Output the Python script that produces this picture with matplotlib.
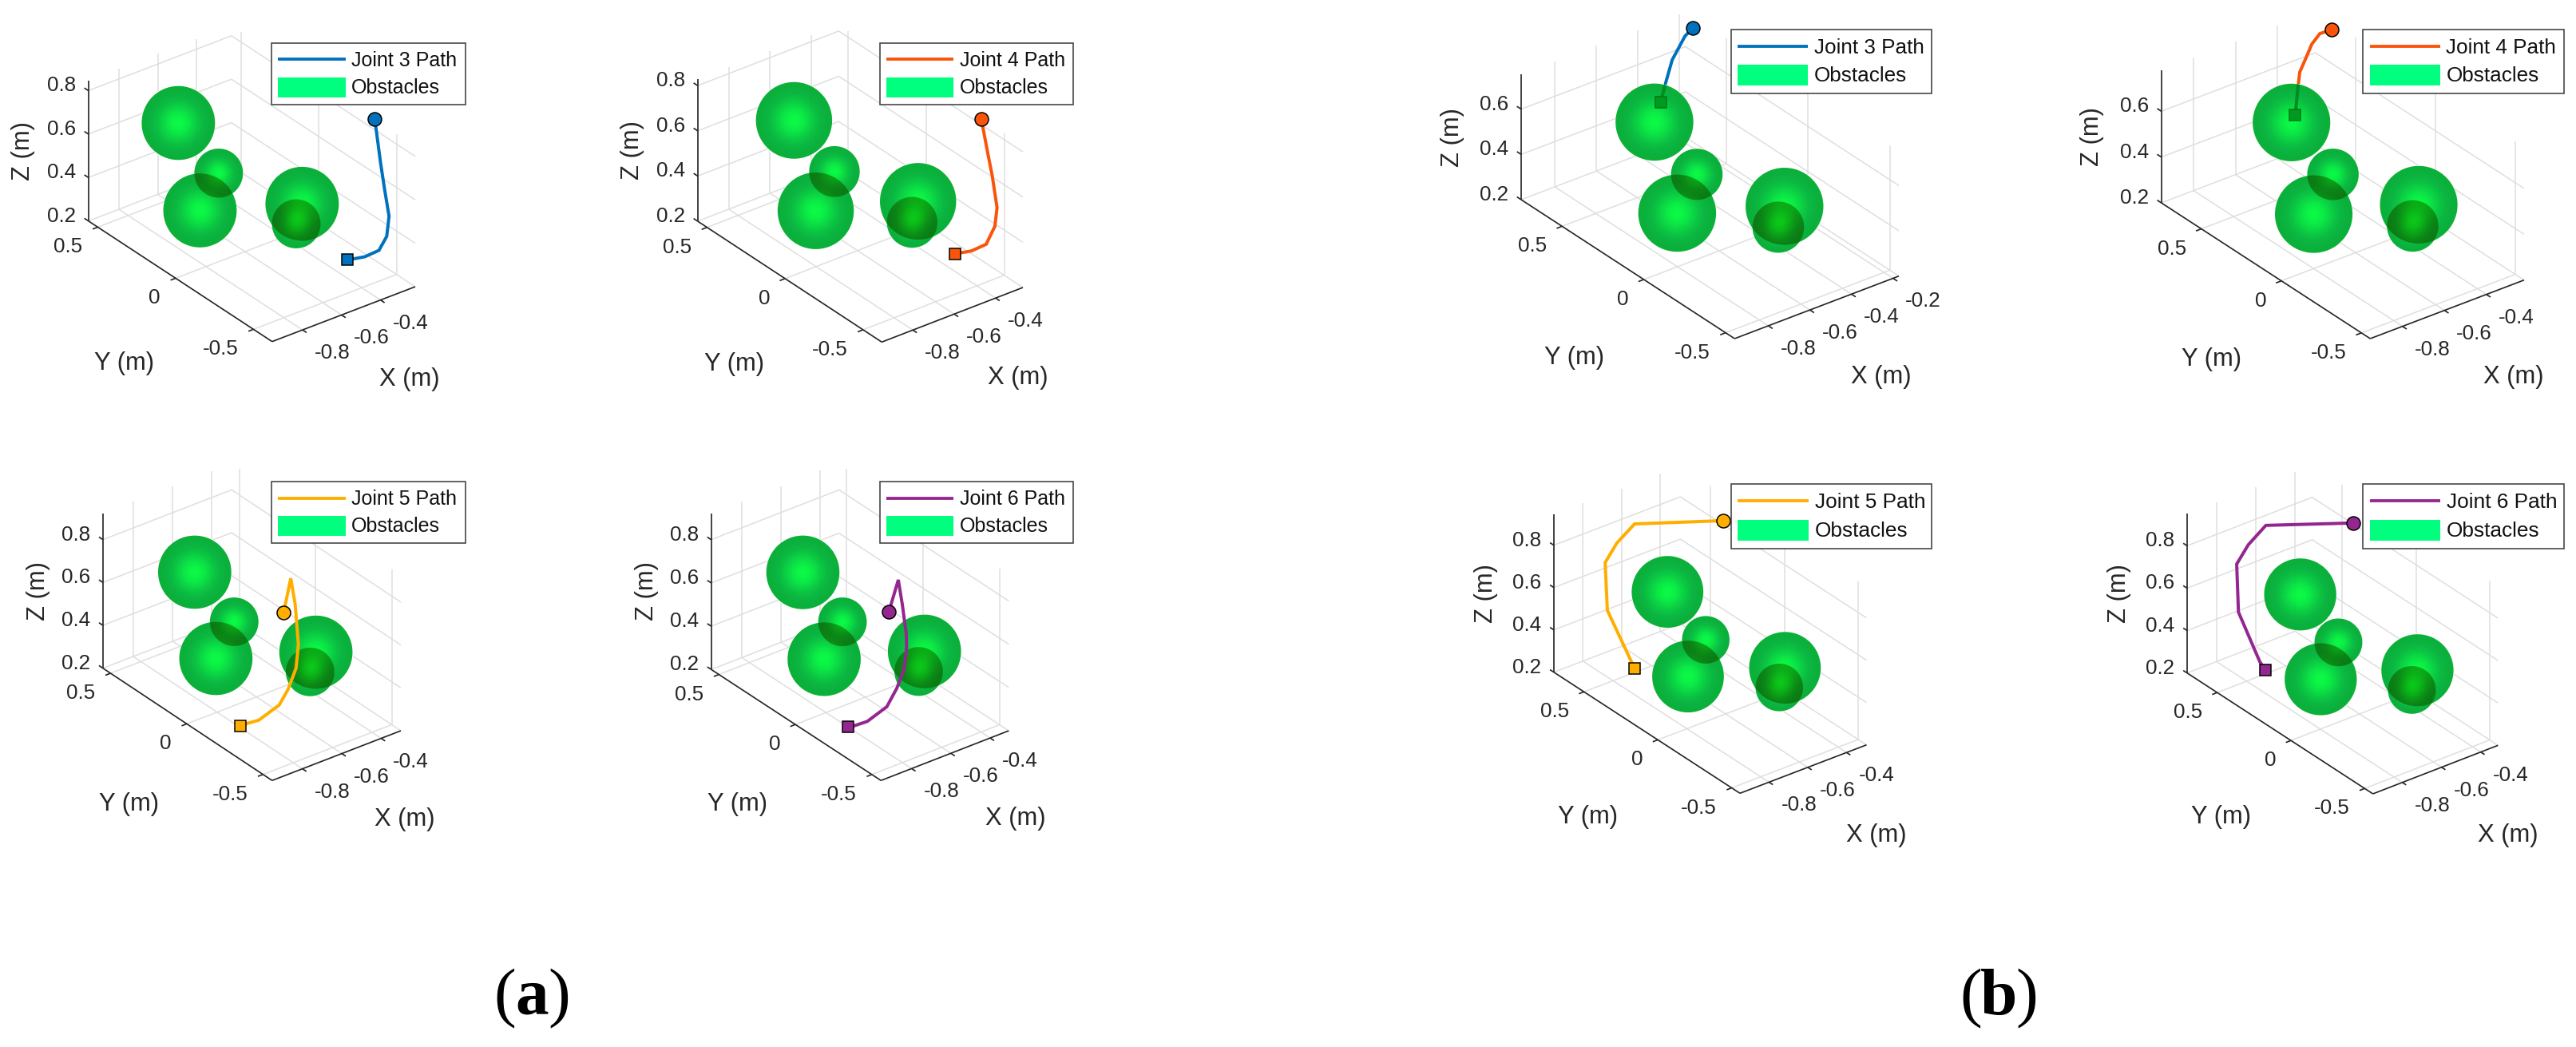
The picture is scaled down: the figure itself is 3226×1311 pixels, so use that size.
import matplotlib

matplotlib.use("Agg")
import matplotlib.pyplot as plt
import numpy as np
from matplotlib.lines import Line2D
from matplotlib.patches import Ellipse, Rectangle

plt.rcParams["font.family"] = ["Liberation Sans", "DejaVu Sans"]

W, H = 3226, 1311
PX = 0.72  # one pixel in points at dpi 100

# obstacles, metres
obstacle_x = [-0.6, -0.6, -0.6, -0.6, -0.6]
obstacle_y = [0.405, 0.146, 0.266, -0.390, -0.352]
obstacle_z = [0.589, 0.480, 0.252, 0.591, 0.481]
obstacle_r = [0.147, 0.0975, 0.147, 0.147, 0.0975]

# joint paths, metres (x held at -0.5, depth cannot be read from one view)
path_x = -0.5
a3_y = [-0.708, -0.718, -0.745, -0.771, -0.800, -0.785, -0.735, -0.643, -0.568, -0.532]
a3_z = [1.108, 1.061, 0.927, 0.816, 0.705, 0.605, 0.517, 0.444, 0.399, 0.378]
a4_y = [-0.660, -0.675, -0.704, -0.731, -0.762, -0.748, -0.692, -0.598, -0.530, -0.493]
a4_z = [1.046, 1.002, 0.909, 0.827, 0.700, 0.611, 0.506, 0.434, 0.395, 0.374]
a5_y = [-0.049, -0.096, -0.125, -0.146, -0.131, -0.078, -0.020, 0.113, 0.206, 0.237]
a5_z = [0.580, 0.763, 0.656, 0.479, 0.361, 0.236, 0.136, 0.003, -0.060, -0.082]
a6_y = [-0.027, -0.088, -0.114, -0.140, -0.142, -0.128, -0.079, -0.013, 0.115, 0.208, 0.241]
a6_z = [0.574, 0.748, 0.647, 0.524, 0.463, 0.358, 0.244, 0.127, -0.000, -0.065, -0.084]
b3_y = [0.286, 0.335, 0.414, 0.458, 0.485]
b3_z = [1.016, 0.957, 0.814, 0.681, 0.592]
b4_y = [0.283, 0.355, 0.405, 0.433, 0.480, 0.493, 0.508]
b4_z = [1.010, 0.960, 0.891, 0.832, 0.735, 0.648, 0.536]
b5_y = [0.150, 0.748, 0.868, 0.947, 0.932, 0.766, 0.746]
b5_z = [1.010, 0.723, 0.578, 0.450, 0.231, 0.059, 0.042]
b6_y = [0.176, 0.768, 0.887, 0.966, 0.954, 0.809, 0.770]
b6_z = [0.985, 0.706, 0.561, 0.434, 0.213, 0.044, 0.021]

x_ticks = [-0.8, -0.6, -0.4]
x_ticks_wide = [-0.8, -0.6, -0.4, -0.2]
y_ticks = [0.5, 0, -0.5]
z_ticks = [0.2, 0.4, 0.6, 0.8]
z_ticks_short = [0.2, 0.4, 0.6]

BLUE, RED, AMBER, PURPLE = "#0072BD", "#F9540A", "#FFAE00", "#93278F"

panels = [
    dict(name="Joint 3 Path", color=BLUE, y=a3_y, z=a3_z, xt=x_ticks, zt=z_ticks,
         zb=(110.7, 276.7), c=(340.8, 427.7), xe=(520, 359), top=100.7,
         xl=(-.956, -.222), yl=(-.62, .56), zl=(.2, .847), nudge=(-4.5, -3.4),
         ylab=(-70, 103), xlab=(82, 82), zlab=-82, leg=(340, 54, 242.5, 76.7)),
    dict(name="Joint 4 Path", color=RED, y=a4_y, z=a4_z, xt=x_ticks, zt=z_ticks,
         zb=(873.7, 277), c=(1104.3, 428.3), xe=(1281, 360), top=99.3,
         xl=(-.95, -.268), yl=(-.62, .56), zl=(.2, .828), nudge=(-.3, -1),
         ylab=(-70, 103), xlab=(82, 79), zlab=-82, leg=(1101.7, 54, 242.5, 76.7)),
    dict(name="Joint 5 Path", color=AMBER, y=a5_y, z=a5_z, xt=x_ticks, zt=z_ticks,
         zb=(128.9, 836.7), c=(340.8, 977.3), xe=(502, 915), top=642.7,
         xl=(-.954, -.30), yl=(-.56, .55), zl=(.2, .923), nudge=(0, -.5),
         ylab=(-73.6, 99.7), xlab=(85.5, 80), zlab=-81, leg=(340, 603.3, 242.5, 76.7)),
    dict(name="Joint 6 Path", color=PURPLE, y=a6_y, z=a6_z, xt=x_ticks, zt=z_ticks,
         zb=(890.7, 838.3), c=(1103.3, 977.3), xe=(1263.3, 915), top=642.7,
         xl=(-.956, -.305), yl=(-.56, .55), zl=(.2, .922), nudge=(-.5, -.3),
         ylab=(-73.7, 99), xlab=(88, 79), zlab=-81, leg=(1101.7, 603.3, 242.5, 76.7)),
    dict(name="Joint 3 Path", color=BLUE, y=b3_y, z=b3_z, xt=x_ticks_wide, zt=z_ticks_short,
         zb=(1905, 250), c=(2172.3, 424), xe=(2378, 345.7), top=93.3,
         xl=(-.962, -.172), yl=(-.555, .75), zl=(.2, .753), nudge=(2, 3), behind=True,
         ylab=(-67, 111), xlab=(81, 87), zlab=-86, leg=(2167.7, 36.7, 251.6, 80)),
    dict(name="Joint 4 Path", color=RED, y=b4_y, z=b4_z, xt=x_ticks, zt=z_ticks_short,
         zb=(2706.7, 254), c=(2968.3, 424), xe=(3161, 350.7), top=87.7,
         xl=(-.954, -.22), yl=(-.555, .75), zl=(.2, .78), nudge=(.9, 1.3), behind=True,
         ylab=(-67.5, 111), xlab=(83, 85), zlab=-86.7, leg=(2959, 36.7, 251.6, 80)),
    dict(name="Joint 5 Path", color=AMBER, y=b5_y, z=b5_z, xt=x_ticks, zt=z_ticks,
         zb=(1945.9, 841.7), c=(2179, 993.3), xe=(2337.5, 932.7), top=644,
         xl=(-.95, -.297), yl=(-.556, .704), zl=(.2, .946), nudge=(2.1, -1),
         ylab=(-74, 106), xlab=(92, 83), zlab=-84.5, leg=(2167.7, 606, 251.6, 80.7)),
    dict(name="Joint 6 Path", color=PURPLE, y=b6_y, z=b6_z, xt=x_ticks, zt=z_ticks,
         zb=(2739, 842.7), c=(2971.7, 994), xe=(3128.3, 933.3), top=643.3,
         xl=(-.95, -.312), yl=(-.556, .704), zl=(.2, .951), nudge=(.5, 2.3),
         ylab=(-74, 105), xlab=(91, 82), zlab=-85, leg=(2959, 606, 251.6, 80.7)),
]


def projector(p):
    # orthographic view: metres to figure pixels, fixed by the box corners
    zb, c, xe = map(np.array, (p["zb"], p["c"], p["xe"]))
    xl, yl, zl = p["xl"], p["yl"], p["zl"]
    ex = (xe - c) / (xl[1] - xl[0])
    ey = (zb - c) / (yl[1] - yl[0])
    ez = np.array([0, (p["top"] - zb[1]) / (zl[1] - zl[0])])

    def proj(x, y, z):
        x, y, z = np.asarray(x, float), np.asarray(y, float), np.asarray(z, float)
        px = c[0] + (x - xl[0]) * ex[0] + (y - yl[0]) * ey[0]
        py = c[1] + (x - xl[0]) * ex[1] + (y - yl[0]) * ey[1] + (z - zl[0]) * ez[1]
        return px, py

    return proj, ex, ey, ez


def obstacle_image(ax, p, proj, ex, ey, ez):
    nx, ny = p["nudge"]
    cx, cy = proj(obstacle_x, obstacle_y, obstacle_z)
    cx, cy = cx + nx, cy + ny
    r = np.array(obstacle_r)
    rx = r * np.hypot(ex[0], ey[0])
    ry = r * np.sqrt(ex[1] ** 2 + ey[1] ** 2 + ez[1] ** 2)
    x0, x1 = int((cx - rx).min()) - 3, int((cx + rx).max()) + 3
    y0, y1 = int((cy - ry).min()) - 3, int((cy + ry).max()) + 3
    gx, gy = np.meshgrid(np.arange(x0, x1) + 0.5, np.arange(y0, y1) + 0.5)
    rgb = np.ones(gx.shape + (3,))
    hit = np.zeros(gx.shape, bool)
    for i in range(len(r)):
        d = np.hypot((gx - cx[i]) / rx[i], (gy - cy[i]) / ry[i])
        mask = np.clip((1 - d) * rx[i] + 0.5, 0, 1)
        h = np.sqrt(np.clip(1 - d ** 2, 0, 1))
        col = np.stack([0.0 * h, 0.68 + 0.30 * h ** 7, 0.17 + 0.07 * h], axis=-1)
        # both shells multiply where two spheres overlap
        rgb *= 1 - mask[..., None] * (1 - col)
        hit |= mask > 0
    rgba = np.dstack([rgb, np.where(hit, 0.96, 0.0)])
    ax.imshow(rgba, extent=(x0, x1, y1, y0), interpolation="nearest", aspect="auto", zorder=3)
    return cx, cy, rx, ry


def draw_panel(ax, p):
    proj, ex, ey, ez = projector(p)
    xl, yl, zl = p["xl"], p["yl"], p["zl"]
    grid = dict(color="#dedede", lw=1.5 * PX, zorder=1, solid_capstyle="butt")
    axis = dict(color="#262626", lw=1.7 * PX, zorder=5, solid_capstyle="butt")
    yt = y_ticks

    def seg(xs, ys, zs, **kw):
        ax.plot(*proj(xs, ys, zs), **kw)

    for x in p["xt"]:
        seg([x, x], [yl[0], yl[1]], [zl[0], zl[0]], **grid)
        seg([x, x], [yl[1], yl[1]], [zl[0], zl[1]], **grid)
    for y in yt:
        seg([xl[0], xl[1]], [y, y], [zl[0], zl[0]], **grid)
        seg([xl[1], xl[1]], [y, y], [zl[0], zl[1]], **grid)
    for z in p["zt"]:
        seg([xl[0], xl[1], xl[1]], [yl[1], yl[1], yl[0]], [z, z, z], **grid)

    seg([xl[0], xl[0]], [yl[1], yl[1]], [zl[0], zl[1]], **axis)
    seg([xl[0], xl[0]], [yl[1], yl[0]], [zl[0], zl[0]], **axis)
    seg([xl[0], xl[1]], [yl[0], yl[0]], [zl[0], zl[0]], **axis)

    tick = 0.026
    fs = 26 * PX
    for x in p["xt"]:
        seg([x, x], [yl[0], yl[0] - tick], [zl[0], zl[0]], **axis)
        px, py = proj(x, yl[0], zl[0])
        ax.text(px + 15, py + 29, f"{x:g}", fontsize=fs, ha="left", va="center", color="#262626")
    for y in yt:
        seg([xl[0], xl[0] - tick], [y, y], [zl[0], zl[0]], **axis)
        px, py = proj(xl[0], y, zl[0])
        ax.text(px - 19, py + 25, f"{y:g}", fontsize=fs, ha="right", va="center", color="#262626")
    for z in p["zt"]:
        seg([xl[0], xl[0]], [yl[1], yl[1] + tick], [z, z], **axis)
        px, py = proj(xl[0], yl[1], z)
        ax.text(px - 16, py - 6, f"{z:g}", fontsize=fs, ha="right", va="center", color="#262626")

    lab = 31 * PX
    zb, c, xe = p["zb"], p["c"], p["xe"]
    ax.text((zb[0] + c[0]) / 2 + p["ylab"][0], (zb[1] + c[1]) / 2 + p["ylab"][1], "Y (m)",
            fontsize=lab, ha="center", va="center", color="#262626")
    ax.text((c[0] + xe[0]) / 2 + p["xlab"][0], (c[1] + xe[1]) / 2 + p["xlab"][1], "X (m)",
            fontsize=lab, ha="center", va="center", color="#262626")
    ax.text(zb[0] + p["zlab"], (zb[1] + p["top"]) / 2, "Z (m)", rotation=90,
            fontsize=lab, ha="center", va="center", color="#262626")

    # path, start circle and end square
    px, py = proj(path_x, p["y"], p["z"])
    behind = p.get("behind", False)
    line_z = 2 if behind else 6
    ax.plot(px, py, color=p["color"], lw=4 * PX, zorder=line_z, solid_joinstyle="miter")
    ax.plot(px[0], py[0], "o", ms=17 * PX, mfc=p["color"], mec="black", mew=1.5 * PX, zorder=7)
    ax.plot(px[-1], py[-1], "s", ms=13.5 * PX, mfc=p["color"], mec="black", mew=1.5 * PX,
            zorder=line_z + 0.5)

    cx, cy, rx, ry = obstacle_image(ax, p, proj, ex, ey, ez)
    if behind:
        # the part behind the first sphere shows through as darker green
        clip = Ellipse((cx[0], cy[0]), 2 * rx[0], 2 * ry[0], transform=ax.transData)
        ln, = ax.plot(px, py, color="#008c20", lw=4 * PX, zorder=4)
        ln.set_clip_path(clip)
        ax.plot(px[-1], py[-1], "s", ms=13.5 * PX, mfc="#009a20", mec="#007a18",
                mew=1.5 * PX, zorder=4.5)

    # legend box
    lx, ly, lw, lh = p["leg"]
    k = lh / 76.7
    ax.add_patch(Rectangle((lx, ly), lw, lh, fc="white", ec="#404040", lw=1.6 * PX, zorder=8))
    ax.add_line(Line2D([lx + 8.3 * k, lx + 92.6 * k], [ly + 20.3 * k] * 2, color=p["color"],
                       lw=3.8 * PX, zorder=9, solid_capstyle="butt"))
    ax.add_patch(Rectangle((lx + 8.3 * k, ly + 42.7 * k), 84.3 * k, 25 * k, fc="#00FF7F",
                           ec="none", zorder=9))
    ax.text(lx + 100 * k, ly + 22 * k, p["name"], fontsize=25 * k * PX, va="center",
            color="#111111", zorder=9)
    ax.text(lx + 100 * k, ly + 56 * k, "Obstacles", fontsize=25 * k * PX, va="center",
            color="#111111", zorder=9)


fig = plt.figure(figsize=(W / 100, H / 100), dpi=100)
ax = fig.add_axes([0, 0, 1, 1])
for p in panels:
    draw_panel(ax, p)
ax.set_xlim(0, W)
ax.set_ylim(H, 0)
ax.axis("off")

# sub-figure tags: plain parentheses round a bold letter
serif = ["Liberation Serif", "DejaVu Serif"]
for x, s, weight in [(632, "(", "normal"), (666.5, "a", "bold"), (700, ")", "normal"),
                     (2468, "(", "normal"), (2503, "b", "bold"), (2538, ")", "normal")]:
    ax.text(x, 1270, s, family=serif, weight=weight, fontsize=60, ha="center", va="baseline")

fig.savefig("out.png", dpi=100, facecolor="white")
plt.close(fig)
